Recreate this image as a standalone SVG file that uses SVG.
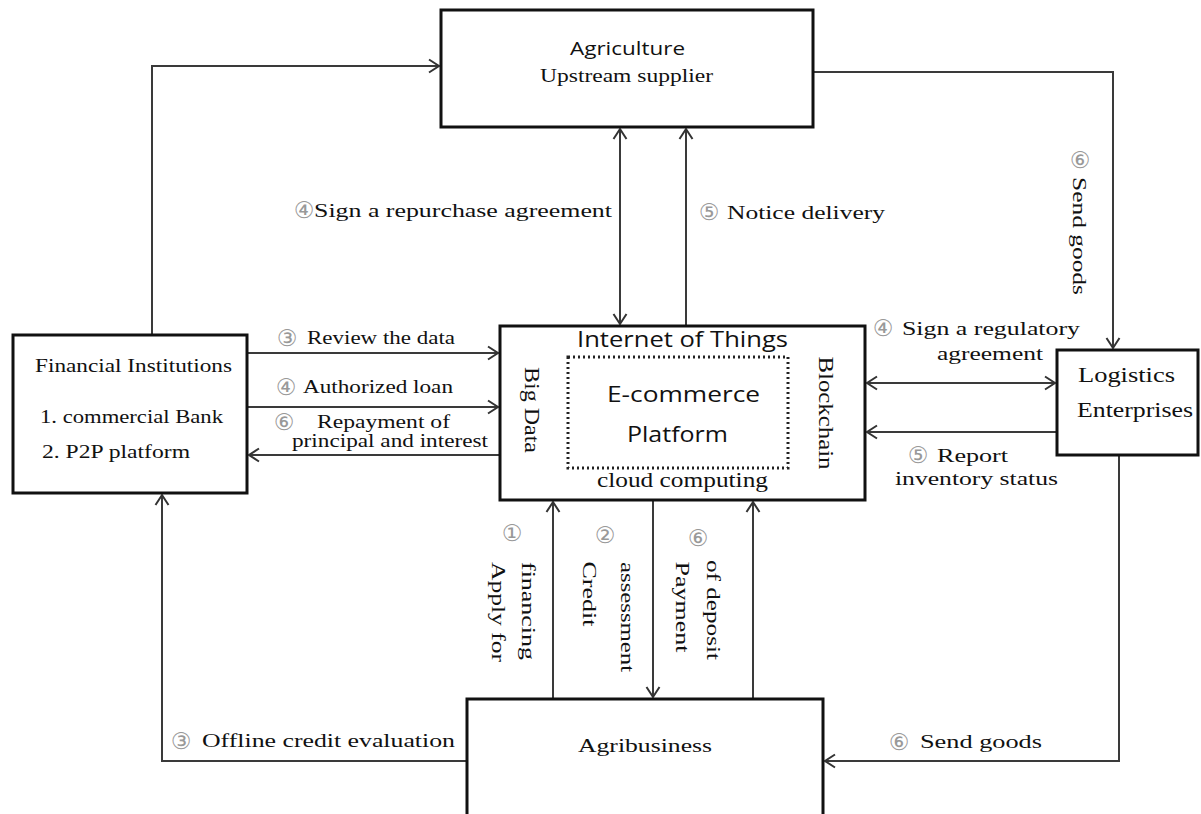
<svg xmlns="http://www.w3.org/2000/svg" width="1201" height="814" viewBox="0 0 1201 814">
<defs>
<marker id="arr" viewBox="-12 -8 14 16" markerWidth="14" markerHeight="16" refX="0" refY="0" orient="auto-start-reverse" markerUnits="userSpaceOnUse">
<path d="M-10,-6.5 L0,0 L-10,6.5" fill="none" stroke="#333" stroke-width="2"/>
</marker>
<style>
.box{fill:#fff;stroke:#111;stroke-width:3}
.ln{fill:none;stroke:#3a3a3a;stroke-width:2}
.ser{font-family:"Liberation Serif","Times New Roman",serif;font-size:19px;fill:#111}
.sans{font-family:"Open Sans","Noto Sans",sans-serif;font-size:19px;fill:#111}
.num{font-family:"DejaVu Sans","Noto Sans CJK SC",sans-serif;font-size:23px;fill:#999;text-anchor:middle;dominant-baseline:central}
.v{dominant-baseline:central}
</style>
</defs>
<rect width="1201" height="814" fill="#fff"/>

<g id="connectors">
<path class="ln" d="M152,335 V66 H439" marker-end="url(#arr)"/>
<path class="ln" d="M813,72 H1113 V348" marker-end="url(#arr)"/>
<path class="ln" d="M620,129 V324" marker-start="url(#arr)" marker-end="url(#arr)"/>
<path class="ln" d="M686,326 V129" marker-end="url(#arr)"/>
<path class="ln" d="M247,353 H498" marker-end="url(#arr)"/>
<path class="ln" d="M247,407 H498" marker-end="url(#arr)"/>
<path class="ln" d="M500,455 H249" marker-end="url(#arr)"/>
<path class="ln" d="M867,383 H1055" marker-start="url(#arr)" marker-end="url(#arr)"/>
<path class="ln" d="M1057,432 H867" marker-end="url(#arr)"/>
<path class="ln" d="M553,699 V502" marker-end="url(#arr)"/>
<path class="ln" d="M653,500 V697" marker-end="url(#arr)"/>
<path class="ln" d="M753,699 V502" marker-end="url(#arr)"/>
<path class="ln" d="M1119,455 V761 H825" marker-end="url(#arr)"/>
<path class="ln" d="M467,761 H162 V495" marker-end="url(#arr)"/>

<text class="num" x="304" y="210">④</text>
<text class="ser" x="314" y="217" textLength="298" lengthAdjust="spacingAndGlyphs">Sign a repurchase agreement</text>
<text class="num" x="709" y="212">⑤</text>
<text class="ser" x="727" y="219" textLength="158" lengthAdjust="spacingAndGlyphs">Notice delivery</text>

<text class="num" x="287" y="338">③</text>
<text class="ser" x="307" y="344" textLength="148" lengthAdjust="spacingAndGlyphs">Review the data</text>
<text class="num" x="286" y="387">④</text>
<text class="ser" x="303" y="393" textLength="150" lengthAdjust="spacingAndGlyphs">Authorized loan</text>
<text class="num" x="284" y="422">⑥</text>
<text class="ser" x="317" y="428" textLength="133" lengthAdjust="spacingAndGlyphs">Repayment of</text>
<text class="ser" x="292" y="447" textLength="196" lengthAdjust="spacingAndGlyphs">principal and interest</text>

<text class="num" x="883" y="328">④</text>
<text class="ser" x="902" y="335" textLength="178" lengthAdjust="spacingAndGlyphs">Sign a regulatory</text>
<text class="ser" x="937" y="360" textLength="106" lengthAdjust="spacingAndGlyphs">agreement</text>
<text class="num" x="918" y="455">⑤</text>
<text class="ser" x="937" y="462" textLength="71" lengthAdjust="spacingAndGlyphs">Report</text>
<text class="ser" x="895" y="485" textLength="163" lengthAdjust="spacingAndGlyphs">inventory status</text>

<text class="num" x="1080" y="160">⑥</text>
<text class="ser v" transform="translate(1079,236) rotate(90)" text-anchor="middle" textLength="118" lengthAdjust="spacingAndGlyphs">Send goods</text>

<text class="num" x="512" y="533">①</text>
<text class="ser v" transform="translate(528,611) rotate(90)" text-anchor="middle" textLength="98" lengthAdjust="spacingAndGlyphs">financing</text>
<text class="ser v" transform="translate(498,612) rotate(90)" text-anchor="middle" textLength="100" lengthAdjust="spacingAndGlyphs">Apply for</text>
<text class="num" x="605" y="535">②</text>
<text class="ser v" transform="translate(627,617) rotate(90)" text-anchor="middle" textLength="110" lengthAdjust="spacingAndGlyphs">assessment</text>
<text class="ser v" transform="translate(589,594) rotate(90)" text-anchor="middle" textLength="65" lengthAdjust="spacingAndGlyphs">Credit</text>
<text class="num" x="698" y="538">⑥</text>
<text class="ser v" transform="translate(713,610) rotate(90)" text-anchor="middle" textLength="100" lengthAdjust="spacingAndGlyphs">of deposit</text>
<text class="ser v" transform="translate(682,607) rotate(90)" text-anchor="middle" textLength="91" lengthAdjust="spacingAndGlyphs">Payment</text>

<text class="num" x="181" y="741">③</text>
<text class="ser" x="202" y="747" textLength="253" lengthAdjust="spacingAndGlyphs">Offline credit evaluation</text>
<text class="num" x="899" y="742">⑥</text>
<text class="ser" x="920" y="748" textLength="122" lengthAdjust="spacingAndGlyphs">Send goods</text>
</g>

<g id="agriculture">
<rect class="box" x="441" y="10" width="372" height="117"/>
<text class="sans" x="570" y="55" textLength="115" lengthAdjust="spacingAndGlyphs">Agriculture</text>
<text class="ser" x="540" y="82" textLength="173" lengthAdjust="spacingAndGlyphs">Upstream supplier</text>
</g>

<g id="financial">
<rect class="box" x="13" y="335" width="234" height="158"/>
<text class="ser" x="35" y="372" textLength="197" lengthAdjust="spacingAndGlyphs">Financial Institutions</text>
<text class="ser" x="40" y="423" textLength="183" lengthAdjust="spacingAndGlyphs">1. commercial Bank</text>
<text class="ser" x="42" y="458" textLength="148" lengthAdjust="spacingAndGlyphs">2. P2P platform</text>
</g>

<g id="platform">
<rect class="box" x="500" y="326" width="365" height="174"/>
<rect x="568" y="357" width="220" height="111" fill="none" stroke="#222" stroke-width="3" stroke-dasharray="2,3"/>
<text class="sans" x="577" y="347" textLength="211" lengthAdjust="spacingAndGlyphs" style="font-size:22px">Internet of Things</text>
<text class="sans" x="607" y="402" textLength="153" lengthAdjust="spacingAndGlyphs" style="font-size:22px">E-commerce</text>
<text class="sans" x="627" y="442" textLength="101" lengthAdjust="spacingAndGlyphs" style="font-size:22px">Platform</text>
<text class="ser" x="597" y="487" textLength="171" lengthAdjust="spacingAndGlyphs" style="font-size:20px">cloud computing</text>
<text class="ser v" transform="translate(532,410) rotate(90)" text-anchor="middle" textLength="86" lengthAdjust="spacingAndGlyphs" style="font-size:20px">Big Data</text>
<text class="ser v" transform="translate(826,413) rotate(90)" text-anchor="middle" textLength="113" lengthAdjust="spacingAndGlyphs" style="font-size:20px">Blockchain</text>
</g>

<g id="logistics">
<rect class="box" x="1057" y="350" width="141" height="105"/>
<text class="ser" x="1078" y="382" textLength="97" lengthAdjust="spacingAndGlyphs" style="font-size:20px">Logistics</text>
<text class="ser" x="1077" y="417" textLength="116" lengthAdjust="spacingAndGlyphs" style="font-size:20px">Enterprises</text>
</g>

<g id="agribusiness">
<rect class="box" x="467" y="699" width="356" height="125"/>
<text class="ser" x="578" y="752" textLength="134" lengthAdjust="spacingAndGlyphs">Agribusiness</text>
</g>
</svg>
